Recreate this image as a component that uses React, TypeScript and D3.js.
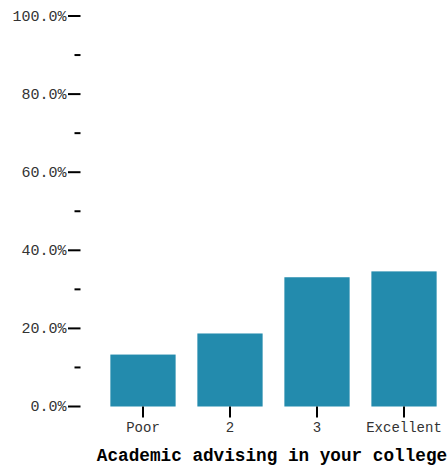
import React from "react";
import * as d3 from "d3";

const categories = ["Poor", "2", "3", "Excellent"];
const values = [0.133, 0.187, 0.331, 0.346];
const majorTicks = [0, 0.2, 0.4, 0.6, 0.8, 1.0];
const minorTicks = [0.1, 0.3, 0.5, 0.7, 0.9];
const xTitle = "Academic advising in your college";

export default function App() {
  const W = 447, H = 469;
  const axisX = 80.5;
  const x = d3.scaleBand<string>().domain(categories).range([80, 467]).paddingInner(0.25).paddingOuter(0.349);
  const y = d3.scaleLinear().domain([0, 1]).range([406.5, 16]);
  const fmt = d3.format(".1%");
  const font = "'Courier New', Courier, 'Liberation Mono', monospace";
  return (
    <svg width={W} height={H} style={{ position: "absolute", left: 0, top: 0 }}>
      {categories.map((c, i) => (
        <rect key={c} x={x(c)} y={y(values[i])} width={x.bandwidth()} height={y(0) - y(values[i])} fill="#238bad" />
      ))}
      {majorTicks.map((t) => (
        <g key={t} transform={`translate(0,${y(t)})`}>
          <line x1={axisX - 12.5} x2={axisX} stroke="#000" strokeWidth={2} />
          <text x={axisX - 14} dy="0.32em" textAnchor="end" fontFamily={font} fontSize={15} fill="#333">{fmt(t)}</text>
        </g>
      ))}
      {minorTicks.map((t) => (
        <line key={t} x1={axisX - 6} x2={axisX} y1={y(t)} y2={y(t)} stroke="#000" strokeWidth={2} />
      ))}
      {categories.map((c) => {
        const cx = (x(c) as number) + x.bandwidth() / 2;
        return (
          <g key={c} transform={`translate(${cx},0)`}>
            <line y1={406.5} y2={417.5} stroke="#000" strokeWidth={2} />
            <text y={432} textAnchor="middle" fontFamily={font} fontSize={14} fill="#333">{c}</text>
          </g>
        );
      })}
      <text x={272} y={461} textAnchor="middle" fontFamily={font} fontSize={17.7} fontWeight="bold" fill="#000">{xTitle}</text>
    </svg>
  );
}
